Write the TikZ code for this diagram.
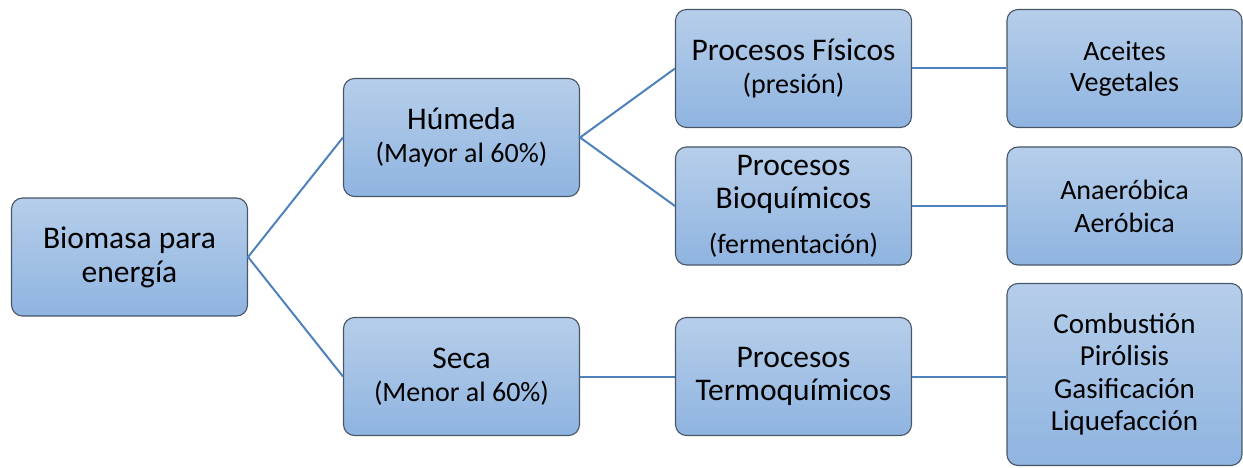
\documentclass[tikz,border=0pt]{standalone}
\usepackage{fontspec}
\setmainfont{Carlito}
\definecolor{edgeblue}{RGB}{79,129,189}
\definecolor{boxtop}{RGB}{182,206,234}
\definecolor{boxbot}{RGB}{143,180,224}
\definecolor{boxline}{RGB}{72,86,102}
\newcommand{\fbig}{\fontsize{31.5}{33}\selectfont}
\newcommand{\fsml}{\fontsize{28}{33}\selectfont}
\newcommand{\fmid}{\fontsize{29}{32.5}\selectfont}
\begin{document}
\begin{tikzpicture}[x=1pt,y=-1pt,
  box/.style={draw=boxline, line width=1.1pt, rounded corners=11pt,
    top color=boxtop, bottom color=boxbot, minimum width=236pt,
    minimum height=118pt, inner sep=0pt, align=center, text=black,
    font=\fontsize{28}{33}\selectfont},
  link/.style={draw=edgeblue, line width=2pt}]
\useasboundingbox (0,0) rectangle (1243,468);
\node[box, font=\fontsize{31.5}{34}\selectfont] (bio) at (129.5,257) {Biomasa para\\ energía};
\node[box] (hum) at (461.5,137.5) {\fbig Húmeda\\ \fsml (Mayor al 60\%)};
\node[box] (seca) at (461.5,376.5) {\fbig Seca\\ \fsml (Menor al 60\%)};
\node[box] (fis) at (793.5,68.5) {\fbig Procesos Físicos\\ \fsml (presión)};
\node[box] (bioq) at (793.5,206) {\fbig Procesos\\ \fbig Bioquímicos\\[12pt] \fsml (fermentación)};
\node[box] (termo) at (793.5,376.5) {\fbig Procesos\\ \fbig Termoquímicos};
\node[box, minimum width=235pt, font=\fontsize{28}{31}\selectfont] (acei) at (1124.5,68.5) {Aceites\\ Vegetales};
\node[box, minimum width=235pt] (anae) at (1124.5,206) {Anaeróbica\\ Aeróbica};
\node[box, minimum width=235pt, minimum height=182pt, font=\fontsize{29}{32.5}\selectfont] (comb) at (1124.5,374.5) {Combustión\\ Pirólisis\\ Gasificación\\ Liquefacción};
\draw[link] (hum.west) -- (bio.east) -- (seca.west);
\draw[link] (fis.west) -- (hum.east) -- (bioq.west);
\draw[link] (seca.east) -- (termo.west);
\draw[link] (fis.east) -- (acei.west);
\draw[link] (bioq.east) -- (anae.west);
\draw[link] (termo.east) -- (comb.west |- termo.east);
\end{tikzpicture}
\end{document}
